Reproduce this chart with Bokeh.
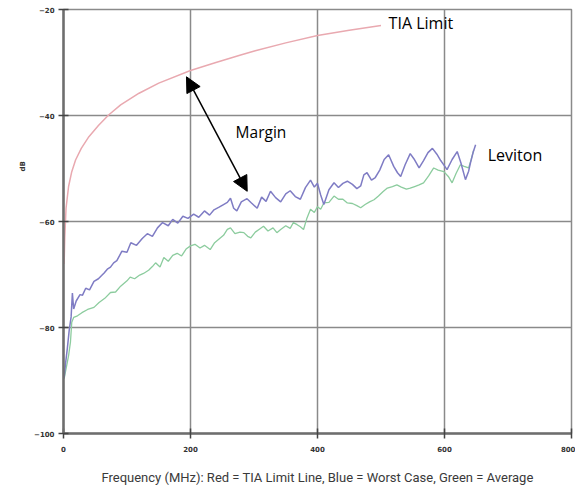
import math
from bokeh.plotting import figure
from bokeh.models import FixedTicker, Label, Arrow, NormalHead, Range1d, Title
from bokeh.embed import file_html
from bokeh.resources import INLINE

# ---- data ----
tia_freq = [1, 2, 4, 8, 13, 19, 28, 40, 55, 71, 90, 119, 150, 200, 240, 279, 302, 350, 400, 450, 500]
tia_db = [-68, -63, -57.5, -53.4, -50.6, -48.4, -46.2, -44.0, -41.9, -39.9, -38.0, -35.8, -33.9, -31.5, -30.0, -28.6, -27.8, -26.3, -24.9, -23.9, -23.0]

blue_freq = [1, 3, 6, 9, 12, 14, 16, 20, 26, 30, 35, 41, 48, 55, 60, 64, 69, 74, 79, 84, 92, 100, 106, 115, 124, 132,
             140, 148, 156, 165,
             172, 180, 188, 196, 205, 213, 222, 230, 237, 245, 252, 258, 263, 268, 273, 280, 289, 296, 305, 312, 319,
             326, 334, 342, 350, 357, 365, 373, 381, 389, 395, 400, 405, 410, 418, 426, 433, 440, 447, 455, 462, 468,
             473, 478, 485, 491, 498, 505, 512, 520, 526, 531, 538, 546, 552, 560, 567, 574, 581, 588, 594, 600, 604,
             612, 620, 626, 633, 638, 641, 645, 649]
blue_db = [-89.5, -87, -84, -80.5, -78, -73.5, -76.5, -75, -73.8, -73.9, -72.6, -72.9, -71.3, -70.8, -70.2, -69.7,
           -69.0, -68.6, -67.8, -67.4, -65.6, -65.8,
           -64, -64.5, -63.2, -62.3, -62.8, -61.2, -60.2, -60.8, -59.6, -60.3, -59, -59.4, -58.6, -59.2, -58, -58.8,
           -57.8, -57.3, -56.8, -56.4, -55.6, -57.5, -58, -56.3, -55.7, -56.5, -57.5, -55.4, -56.2, -54.3, -55.5,
           -56.3, -54.8, -54.2, -55.3, -55.8, -53.6, -52.2, -53.5, -52.8, -55, -56.8, -54, -52.7, -53.6, -52.8, -52.4,
           -53, -53.8, -53.3, -51.2, -50.8, -52.2, -51.7, -50.3, -48.3, -47.4, -49.6, -50.8, -51.5, -49.3, -47.2,
           -48.2, -49.9, -48.5, -47, -46.2, -47.3, -48.5, -49.5, -50.2, -48.3, -46.8, -49, -52.1, -50.5, -48.9, -47,
           -45.5]

green_freq = [1, 3, 6, 8, 11, 13, 16, 22, 29, 38, 48, 56, 65, 74, 82, 90, 100, 105, 112, 120, 126, 134, 140, 145, 152,
              158, 165, 172, 179, 186, 193, 200, 207, 215, 222, 231, 238, 245, 252, 258, 263, 270, 278, 284, 290, 295,
              302, 309, 315, 322, 330, 336, 342, 350, 357, 362, 368, 373, 378, 383, 389, 395, 400, 405, 410, 418, 426,
              433, 440, 447, 455, 462, 468, 475, 482, 489, 496, 503, 510, 518, 525, 532, 540, 546, 553, 560, 567, 575,
              583, 590, 599, 606, 612, 618, 625, 631, 638, 642, 646]
green_db = [-89.7, -88.4, -86.6, -85.3, -82.7, -79, -78.1, -77.8, -77.2, -76.6, -76.2, -75.3, -74.5, -73.4, -73.3,
            -72.2, -71.2, -70.5, -70.8, -70.1, -69.8, -69.2, -68.5, -67.8, -68.6, -66.8, -67.5, -66.4, -66, -66.5,
            -65.2, -64.6, -64.3, -65, -64.5, -65.3, -64, -63.3, -62.6, -61.5, -61.2, -62.3, -62, -62.1, -62.8, -63.1,
            -62, -61.4, -60.9, -61.8, -61.2, -62.1, -61.5, -60.8, -61.3, -60.2, -60.6, -61, -61.5, -59.5, -57.7,
            -58.3, -57.2, -57.7, -56.5, -56.4, -55.2, -55.8, -55.8, -56.5, -56.6, -57, -57.4, -56.8, -56.3, -55.9,
            -55.2, -54.4, -53.7, -53.4, -53.1, -53.5, -53.9, -53.7, -53.4, -53.1, -52.7, -51.4, -49.9, -50.3, -50.6,
            -51.5, -52.7, -51, -49.3, -49.6, -49.9, -48.3, -46.5]

x_ticks = [0, 200, 400, 600, 800]
y_ticks = [-100, -80, -60, -40, -20]
caption = "Frequency (MHz): Red = TIA Limit Line, Blue = Worst Case, Green = Average"

# ---- figure ----
p = figure(width=575, height=487, output_backend="svg", toolbar_location=None,
           x_range=Range1d(0, 800), y_range=Range1d(-100, -20),
           min_border_left=63, min_border_right=4, min_border_top=9, min_border_bottom=52)
p.background_fill_color = "white"
p.border_fill_color = "white"
p.outline_line_color = "#8a8a8a"
p.outline_line_width = 1.5

for ax, ticks in ((p.xaxis[0], x_ticks), (p.yaxis[0], y_ticks)):
    ax.ticker = FixedTicker(ticks=ticks)
    ax.axis_line_color = "#6e6e6e"
    ax.axis_line_width = 2.5
    ax.major_tick_line_color = "#444444"
    ax.major_tick_line_width = 1.5
    ax.major_tick_in = 5
    ax.major_tick_out = 5
    ax.minor_tick_line_color = None
    ax.major_label_text_font = "DejaVu Sans"
    ax.major_label_text_font_size = "7px"
    ax.major_label_text_font_style = "bold"
    ax.major_label_text_color = "#333333"
p.xaxis.major_label_standoff = 7
p.yaxis.major_label_standoff = 4

p.xaxis.axis_label = caption
p.xaxis.axis_label_text_font = "Roboto"
p.xaxis.axis_label_text_font_size = "13px"
p.xaxis.axis_label_text_font_style = "normal"
p.xaxis.axis_label_text_color = "#3a3a3a"
p.xaxis.axis_label_standoff = 15

p.add_layout(Title(text="dB", text_font="DejaVu Sans", text_font_size="7px", text_font_style="bold",
                   text_color="#333333", align="left", offset=262, standoff=10), "left")

p.xgrid.ticker = FixedTicker(ticks=x_ticks)
p.ygrid.ticker = FixedTicker(ticks=y_ticks)
p.grid.grid_line_color = "#8a8a8a"
p.grid.grid_line_width = 1.5

p.line(tia_freq, tia_db, line_color="#e9a9b0", line_width=1.5)
p.line(green_freq, green_db, line_color="#8ccc9e", line_width=1.3)
p.line(blue_freq, blue_db, line_color="#7f7cc4", line_width=1.5)

arrow_start = (193.7, -32.7)
arrow_end = (289.3, -54.3)
p.add_layout(Arrow(start=NormalHead(size=15, fill_color="black", line_color="black"),
                   end=NormalHead(size=15, fill_color="black", line_color="black"),
                   x_start=arrow_start[0], y_start=arrow_start[1],
                   x_end=arrow_end[0], y_end=arrow_end[1],
                   line_color="black", line_width=1.5))

ann_font = "Open Sans"
p.add_layout(Label(x=512, y=-22.6, text="TIA Limit", text_font=ann_font, text_font_size="16px",
                   text_baseline="middle", text_color="black"))
p.add_layout(Label(x=271, y=-43.2, text="Margin", text_font=ann_font, text_font_size="15.5px",
                   text_baseline="middle", text_color="black"))
p.add_layout(Label(x=668, y=-47.4, text="Leviton", text_font=ann_font, text_font_size="16px",
                   text_baseline="middle", text_color="black"))

open("out.html", "w").write(file_html(p, INLINE))
